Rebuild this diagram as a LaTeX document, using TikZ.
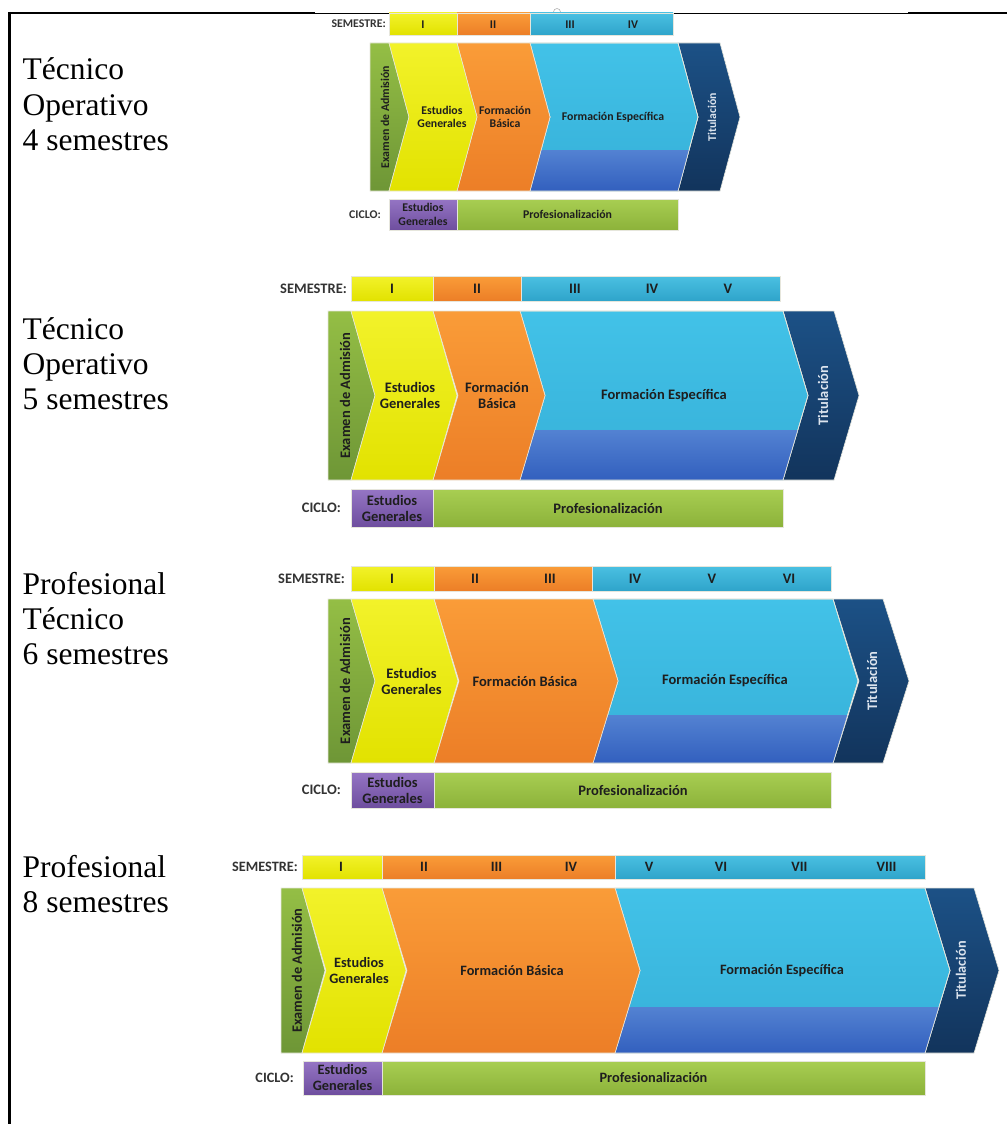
\documentclass[tikz,border=0pt]{standalone}
\usepackage{fontspec}
\setmainfont{Liberation Serif}
\newfontfamily\carl{Carlito}
\definecolor{yelT}{HTML}{F2F22A}
\definecolor{yelB}{HTML}{E2E200}
\definecolor{oraT}{HTML}{FA9C38}
\definecolor{oraB}{HTML}{EC7E27}
\definecolor{lbT}{HTML}{42C2E8}
\definecolor{lbB}{HTML}{36B0D8}
\definecolor{dbT}{HTML}{5382D2}
\definecolor{dbB}{HTML}{2F5CBC}
\definecolor{nvT}{HTML}{1C5186}
\definecolor{nvB}{HTML}{12345C}
\definecolor{exT}{HTML}{94BE45}
\definecolor{exB}{HTML}{6E9636}
\definecolor{cgT}{HTML}{A8CE52}
\definecolor{cgB}{HTML}{8CB23A}
\definecolor{puT}{HTML}{9575C4}
\definecolor{puB}{HTML}{6E4E9E}
\definecolor{sbT}{HTML}{4AC0E2}
\definecolor{sbB}{HTML}{2FA4CA}
\definecolor{edgec}{HTML}{E6E6DC}
\definecolor{txt}{HTML}{1E1E1E}
\definecolor{lblc}{HTML}{333333}
\definecolor{titc}{HTML}{DCE4EE}
\tikzset{
  chev/.style n args={5}{insert path={(#1,#3) -- (#2,#3) -- ({#2+#5},{(#3+#4)/2}) -- (#2,#4) -- (#1,#4) -- ({#1+#5},{(#3+#4)/2}) -- cycle}},
  exam/.style n args={5}{insert path={(#1,#3) -- (#2,#3) -- ({#2+#5},{(#3+#4)/2}) -- (#2,#4) -- (#1,#4) -- cycle}},
  bord/.style={draw=edgec, line width=0.6},
  yelF/.style={top color=yelT, bottom color=yelB, bord},
  oraF/.style={top color=oraT, bottom color=oraB, bord},
  lbF/.style={top color=lbT, bottom color=lbB, bord},
  dbF/.style={top color=dbT, bottom color=dbB},
  nvF/.style={top color=nvT, bottom color=nvB, bord},
  exF/.style={top color=exT, bottom color=exB, bord},
  cgF/.style={top color=cgT, bottom color=cgB, bord},
  puF/.style={top color=puT, bottom color=puB, bord},
  sbF/.style={top color=sbT, bottom color=sbB, bord},
  sz/.style 2 args={font=\carl\bfseries\fontsize{#1}{#2}\selectfont},
  lbl/.style={inner sep=0, align=center, text=txt},
  hdr/.style={inner sep=0, anchor=east, text=lblc},
  titl/.style={inner sep=0, rotate=90, text=titc},
  side/.style={anchor=base west, inner sep=0, font=\fontsize{31.5}{35}\selectfont}
}
\begin{document}
\begin{tikzpicture}[x=1pt,y=-1pt]
\useasboundingbox (0,0) rectangle (1008,1124);
% frame
\draw[line width=2.5] (9.5,12) -- (9.5,1124);
\draw[line width=2.5] (8.25,13) -- (315,13);
\draw[line width=1] (315,13.7) -- (908,13.7);
\draw[line width=2.5] (908,13) -- (1007,13);
% side labels
\node[side] (l1a) at (22.5,80) {Técnico};
\node[side] (l1b) at (22.5,115) {Operativo};
\node[side] (l1c) at (22.5,150) {4 semestres};
\node[side] (l2a) at (22.5,339) {Técnico};
\node[side] (l2b) at (22.5,374) {Operativo};
\node[side] (l2c) at (22.5,409) {5 semestres};
\node[side] (l3a) at (22.5,594) {Profesional};
\node[side] (l3b) at (22.5,629) {Técnico};
\node[side] (l3c) at (22.5,664) {6 semestres};
\node[side] (l4a) at (22.5,877) {Profesional};
\node[side] (l4b) at (22.5,912) {8 semestres};

% ===== Diagram 1 =====
\begin{scope}[every node/.append style={sz={11.8}{13.3}}]
\draw[gray!60, fill=white, line width=0.6] (557,12) circle (3.5);
\path[yelF] (389,13) rectangle (457,35);
\path[oraF] (457,13) rectangle (530,35);
\path[sbF] (530,13) rectangle (673,35);
\node[hdr] (d1sem) at (386,24) {SEMESTRE:};
\node[lbl] (d1s1) at (423,24.5) {I};
\node[lbl] (d1s2) at (493,24.5) {II};
\node[lbl] (d1s3) at (570,24.5) {III};
\node[lbl] (d1s4) at (633,24.5) {IV};
\path[exF, exam={370}{389}{43}{191}{20}];
\path[nvF, chev={678}{720}{43}{191}{20}];
\path[lbF, chev={530}{678}{43}{191}{20}];
\begin{scope}
\path[clip, chev={530}{678}{43}{191}{20}];
\path[dbF] (520,150) rectangle (712,195);
\end{scope}
\path[bord, chev={530}{678}{43}{191}{20}];
\path[oraF, chev={457}{530}{43}{191}{20}];
\path[yelF, chev={389}{457}{43}{191}{20}];
\node[lbl, rotate=90] (d1ex) at (385,117) {Examen de Admisión};
\node[lbl] (d1eg) at (442,117) {Estudios\\Generales};
\node[lbl] (d1fb) at (505,117) {Formación\\Básica};
\node[lbl] (d1fe) at (613,117) {Formación Específica};
\node[titl] (d1ti) at (712,117) {Titulación};
\path[puF] (389,199) rectangle (457,230);
\path[cgF] (457,199) rectangle (678,230);
\node[hdr] (d1cy) at (381,214.5) {CICLO:};
\node[lbl] (d1cg) at (423,214.5) {Estudios\\Generales};
\node[lbl] (d1cp) at (567.5,214.5) {Profesionalización};
\end{scope}

% ===== Diagram 2 =====
\begin{scope}[every node/.append style={sz={14.5}{16}}]
\path[yelF] (351,276) rectangle (433,301);
\path[oraF] (433,276) rectangle (521,301);
\path[sbF] (521,276) rectangle (780,301);
\node[hdr] (d2sem) at (347,288.5) {SEMESTRE:};
\node[lbl] (d2s1) at (392,288.5) {I};
\node[lbl] (d2s2) at (477,288.5) {II};
\node[lbl] (d2s3) at (575,288.5) {III};
\node[lbl] (d2s4) at (652,288.5) {IV};
\node[lbl] (d2s5) at (728,288.5) {V};
\path[exF, exam={328}{351}{311}{480}{24}];
\path[nvF, chev={783}{834}{311}{480}{25}];
\path[lbF, chev={520}{783}{311}{480}{25}];
\begin{scope}
\path[clip, chev={520}{783}{311}{480}{25}];
\path[dbF] (510,430) rectangle (820,485);
\end{scope}
\path[bord, chev={520}{783}{311}{480}{25}];
\path[oraF, chev={433}{520}{311}{480}{25}];
\path[yelF, chev={351}{433}{311}{480}{24}];
\node[lbl, rotate=90] (d2ex) at (345,395.5) {Examen de Admisión};
\node[lbl] (d2eg) at (410,395.5) {Estudios\\Generales};
\node[lbl] (d2fb) at (497,395.5) {Formación\\Básica};
\node[lbl] (d2fe) at (664,395.5) {Formación Específica};
\node[titl] (d2ti) at (823,395.5) {Titulación};
\path[puF] (351,489) rectangle (433,527);
\path[cgF] (433,489) rectangle (783,527);
\node[hdr] (d2cy) at (341,508) {CICLO:};
\node[lbl] (d2cg) at (392,508) {Estudios\\Generales};
\node[lbl] (d2cp) at (608,508) {Profesionalización};
\end{scope}

% ===== Diagram 3 =====
\begin{scope}[every node/.append style={sz={14.5}{16}}]
\path[yelF] (351,566) rectangle (434,591);
\path[oraF] (434,566) rectangle (592.5,591);
\path[sbF] (592.5,566) rectangle (831,591);
\node[hdr] (d3sem) at (345,578.5) {SEMESTRE:};
\node[lbl] (d3s1) at (392,578.5) {I};
\node[lbl] (d3s2) at (475,578.5) {II};
\node[lbl] (d3s3) at (550,578.5) {III};
\node[lbl] (d3s4) at (635,578.5) {IV};
\node[lbl] (d3s5) at (712,578.5) {V};
\node[lbl] (d3s6) at (789,578.5) {VI};
\path[exF, exam={328}{351}{599}{763}{24}];
\path[nvF, chev={833}{883}{599}{763}{26}];
\path[lbF, chev={593}{833}{599}{763}{25}];
\begin{scope}
\path[clip, chev={593}{833}{599}{763}{25}];
\path[dbF] (580,715) rectangle (870,768);
\end{scope}
\path[bord, chev={593}{833}{599}{763}{25}];
\path[oraF, chev={434}{593}{599}{763}{25}];
\path[yelF, chev={351}{434}{599}{763}{24}];
\node[lbl, rotate=90] (d3ex) at (345,681) {Examen de Admisión};
\node[lbl] (d3eg) at (411.5,681) {Estudios\\Generales};
\node[lbl] (d3fb) at (525,681) {Formación Básica};
\node[lbl] (d3fe) at (725,681) {Formación Específica};
\node[titl] (d3ti) at (872,681) {Titulación};
\path[puF] (351,772) rectangle (434,808);
\path[cgF] (434,772) rectangle (831,808);
\node[hdr] (d3cy) at (341,790) {CICLO:};
\node[lbl] (d3cg) at (392.5,790) {Estudios\\Generales};
\node[lbl] (d3cp) at (633,790) {Profesionalización};
\end{scope}

% ===== Diagram 4 =====
\begin{scope}[every node/.append style={sz={14.3}{16}}]
\path[yelF] (302,855) rectangle (382,879);
\path[oraF] (382,855) rectangle (615,879);
\path[sbF] (615,855) rectangle (925,879);
\node[hdr] (d4sem) at (298,867) {SEMESTRE:};
\node[lbl] (d4s1) at (341,867) {I};
\node[lbl] (d4s2) at (424,867) {II};
\node[lbl] (d4s3) at (496.5,867) {III};
\node[lbl] (d4s4) at (571,867) {IV};
\node[lbl] (d4s5) at (649,867) {V};
\node[lbl] (d4s6) at (721,867) {VI};
\node[lbl] (d4s7) at (799.5,867) {VII};
\node[lbl] (d4s8) at (886.5,867) {VIII};
\path[exF, exam={281}{302}{888}{1053}{23}];
\path[nvF, chev={925}{974}{888}{1053}{25}];
\path[lbF, chev={615}{925}{888}{1053}{25}];
\begin{scope}
\path[clip, chev={615}{925}{888}{1053}{25}];
\path[dbF] (600,1007) rectangle (960,1058);
\end{scope}
\path[bord, chev={615}{925}{888}{1053}{25}];
\path[oraF, chev={382}{615}{888}{1053}{25}];
\path[yelF, chev={302}{382}{888}{1053}{24}];
\node[lbl, rotate=90] (d4ex) at (297,970.5) {Examen de Admisión};
\node[lbl] (d4eg) at (359,970.5) {Estudios\\Generales};
\node[lbl] (d4fb) at (512,970.5) {Formación Básica};
\node[lbl] (d4fe) at (782,970.5) {Formación Específica};
\node[titl] (d4ti) at (961,970.5) {Titulación};
\path[puF] (303,1061) rectangle (382,1095);
\path[cgF] (382,1061) rectangle (925,1095);
\node[hdr] (d4cy) at (294,1078) {CICLO:};
\node[lbl] (d4cg) at (342.5,1078) {Estudios\\Generales};
\node[lbl] (d4cp) at (653.5,1078) {Profesionalización};
\end{scope}
\end{tikzpicture}
\end{document}
